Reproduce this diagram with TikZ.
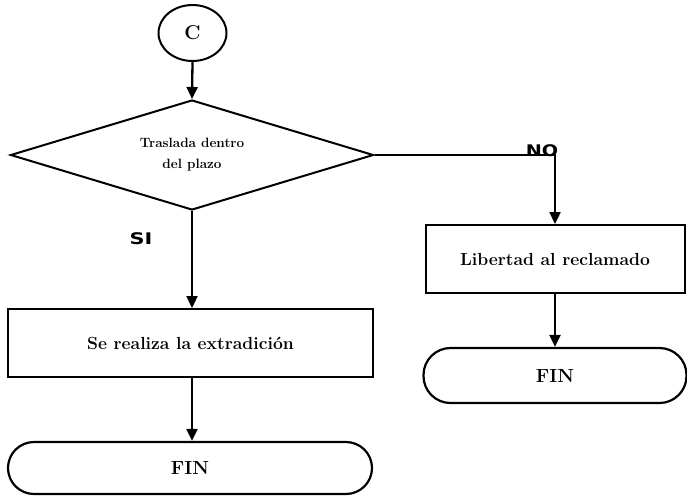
\documentclass[tikz,border=0pt]{standalone}
\usepackage{fontspec}
\newfontfamily\labfont{DejaVu Sans}
\usetikzlibrary{shapes.geometric,arrows.meta}

\tikzset{
  flowline/.style={line width=2.3pt, draw=black},
  flowarrow/.style={flowline, -{Triangle[width=11pt,length=12pt]}},
  connector/.style={ellipse, draw=black, line width=2pt, inner sep=0pt,
                    font=\bfseries\fontsize{20}{24}\selectfont},
  decision/.style={diamond, aspect=3.3, draw=black, line width=2pt, inner sep=0pt, align=center,
                   font=\bfseries\fontsize{13.5}{21}\selectfont},
  process/.style={rectangle, draw=black, line width=2pt, inner sep=0pt,
                  font=\bfseries\fontsize{17.5}{21}\selectfont},
  terminal/.style={rectangle, draw=black, line width=2.2pt, inner sep=0pt,
                   font=\bfseries\fontsize{19}{22}\selectfont},
  branch/.style={inner sep=0pt, font=\labfont\bfseries\fontsize{16}{19}\selectfont}
}

\begin{document}
\begin{tikzpicture}[x=1pt, y=-1pt]
  \useasboundingbox (0,0) rectangle (687,498);

  % nodes of the chart
  \node[connector, minimum width=68pt, minimum height=56pt] (c) at (192.5,33) {C};
  \node[decision, minimum width=363pt, minimum height=110pt] (d) at (192,155)
       {Traslada dentro\\del plazo};
  \node[process, minimum width=365pt, minimum height=68pt] (lb) at (190.5,343)
       {Se realiza la extradición};
  \node[process, minimum width=259pt, minimum height=68pt] (rb) at (555,259)
       {Libertad al reclamado};
  \node[terminal, rounded corners=26pt, minimum width=364pt, minimum height=52pt] (lf) at (190,468) {FIN};
  \node[terminal, rounded corners=27pt, minimum width=263pt, minimum height=55pt] (rf) at (555,375.5) {FIN};

  % branch labels
  \node[branch] (si) at (141,239) {\scalebox{1.3}[1]{SI}};
  \node[branch, anchor=south] (no) at (542,157) {\scalebox{1.2}[1]{NO}};

  % connectors
  \draw[flowarrow] (c.south) -- (d.north);
  \draw[flowarrow] (d.south) -- (d.south |- lb.north);
  \draw[flowarrow] (d.east) -| (rb.north);
  \draw[flowarrow] (rb.south) -- (rf.north);
  \draw[flowarrow] (lb.south -| d.south) -- (d.south |- lf.north);
\end{tikzpicture}
\end{document}
